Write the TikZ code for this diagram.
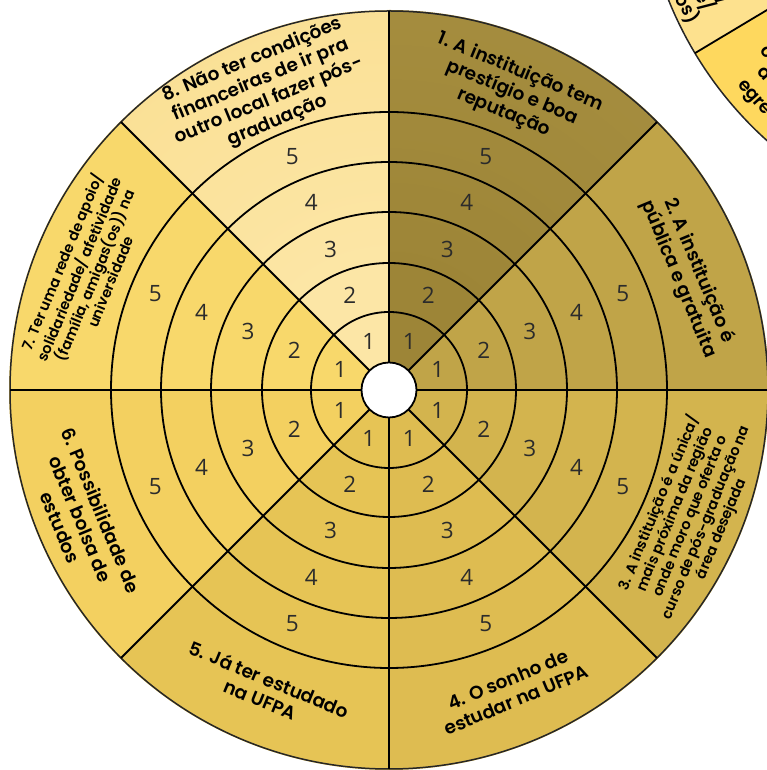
\documentclass[tikz,border=0pt]{standalone}
\usepackage{fontspec}
\IfFontExistsTF{Poppins SemiBold}{\setmainfont{Poppins}[BoldFont={Poppins SemiBold}]}{\setmainfont{Poppins}}
\newfontfamily\numfont{Open Sans}
\definecolor{sA}{HTML}{A68E3E}
\definecolor{sAin}{HTML}{9D8537}
\definecolor{sAout}{HTML}{AC9445}
\definecolor{sB}{HTML}{C0A448}
\definecolor{sC}{HTML}{D3B44E}
\definecolor{sD}{HTML}{DEBC51}
\definecolor{sE}{HTML}{E6C455}
\definecolor{sF}{HTML}{F3D060}
\definecolor{sG}{HTML}{F8D86B}
\definecolor{sH}{HTML}{F9DC8A}
\definecolor{sHin}{HTML}{FCE6A6}
\definecolor{owlight}{HTML}{FDE18E}
\definecolor{owyellow}{HTML}{FED85E}
\definecolor{numgray}{HTML}{2B2B2B}
\pgfdeclareradialshading{shadeH}{\pgfpoint{0bp}{0bp}}{color(0bp)=(sHin); color(8bp)=(sHin); color(38bp)=(sH); color(50bp)=(sH)}
\pgfdeclareradialshading{shadeA}{\pgfpoint{0bp}{0bp}}{color(0bp)=(sAin); color(8bp)=(sAin); color(42bp)=(sAout); color(50bp)=(sAout)}
\begin{document}
\begin{tikzpicture}[x=1pt,y=1pt,
  lbl/.style={font=\bfseries\fontsize{18.5}{22}\selectfont, align=center, text=black, inner sep=0pt},
  lblsm/.style={font=\bfseries\fontsize{14.5}{16.8}\selectfont, align=center, text=black, inner sep=0pt},
  olbl/.style={font=\bfseries\fontsize{18}{21}\selectfont, text=black, inner sep=0pt},
  num/.style={font=\numfont\fontsize{22.5}{22.5}\selectfont, text=numgray, inner sep=0pt},
  ring/.style={draw=black, line width=1.8pt},
  rim/.style={draw=black!85, line width=1.5pt}]
\useasboundingbox (0,0) rectangle (767,770);
\clip (0,0) rectangle (767,770);
% ---- partial second wheel (top right) ----
\begin{scope}[shift={(1021,912)}]
  \coordinate (oc) at (0,0);
  \fill[owlight] (oc) -- (160:380) arc[start angle=160,end angle=210.9,radius=380] -- cycle;
  \fill[owyellow] (oc) -- (210.9:380) arc[start angle=210.9,end angle=270,radius=380] -- cycle;
  \draw[rim] (160:380) arc[start angle=160,end angle=270,radius=380];
  \coordinate (orim) at (210.9:380);
  \draw[ring] (oc) -- (orim);
\end{scope}
\node[olbl, rotate=-62, anchor=base east] (o1) at (722,764) {o/};
\node[olbl, rotate=-62, anchor=base east] (o2) at (704,757) {e/};
\node[olbl, rotate=-62, anchor=base east] (o3) at (689,745) {s(os)};
\node[olbl, rotate=-48, anchor=base west] (o4) at (759,719) {c};
\node[olbl, rotate=-48, anchor=base west] (o5) at (756,698) {d};
\node[olbl, rotate=-48, anchor=base west] (o6) at (737,685) {egre};
% ---- main wheel ----
\begin{scope}[shift={(389,380)}]
  \coordinate (c) at (0,0);
  \fill[sB] (c) -- (0:380) arc[start angle=0,end angle=45,radius=380] -- cycle;
  \fill[sC] (c) -- (-45:380) arc[start angle=-45,end angle=0,radius=380] -- cycle;
  \fill[sD] (c) -- (-90:380) arc[start angle=-90,end angle=-45,radius=380] -- cycle;
  \fill[sE] (c) -- (-135:380) arc[start angle=-135,end angle=-90,radius=380] -- cycle;
  \fill[sF] (c) -- (180:380) arc[start angle=180,end angle=225,radius=380] -- cycle;
  \fill[sG] (c) -- (135:380) arc[start angle=135,end angle=180,radius=380] -- cycle;
  \begin{scope}
    \clip (c) -- (90:381) arc[start angle=90,end angle=135,radius=381] -- cycle;
    \shade[shading=shadeH] (c) circle (380);
  \end{scope}
  \begin{scope}
    \clip (c) -- (45:381) arc[start angle=45,end angle=90,radius=381] -- cycle;
    \shade[shading=shadeA] (c) circle (380);
  \end{scope}
  \fill[white] (c) circle (27.5);
  \foreach \r in {78,127,178,228,278} \draw[ring] (c) circle (\r);
  \draw[rim] (c) circle (379);
  \foreach \a in {0,45,...,315} \draw[ring] (\a:27.5) -- (\a:379);
  \draw[ring] (c) circle (27.5);
  % ring numbers
  \foreach \a [count=\i] in {22.5,67.5,112.5,157.5,202.5,247.5,292.5,337.5}
    \foreach \r/\n in {52.75/1,102.5/2,152.5/3,203/4,253/5}
      \node[num] (n\i-\n) at (\a:\r) {\n};
  % sector labels
  \node[lbl, rotate=-22.5] (t1) at (67.5:322) {1. A instituição tem\\prestígio e boa\\reputação};
  \node[lbl, rotate=-67.5] (t2) at (21:321) {2. A instituição é\\pública e gratuita};
  \node[lblsm, rotate=67.5] (t3) at (-22.7:326) {3. A instituição é a única/\\mais próxima da região\\onde moro que oferta o\\curso de pós-graduação na\\área desejada};
  \node[lbl, rotate=22.5] (t4) at (-67.7:324) {4. O sonho de\\estudar na UFPA};
  \node[lbl, rotate=-22.5] (t5) at (247.5:324) {5. Já ter estudado\\na UFPA};
  \node[lbl, rotate=-67.5] (t6) at (202.7:334) {6. Possibilidade de\\obter bolsa de\\estudos};
  \node[lblsm, rotate=67.5] (t7) at (158.7:326) {7. Ter uma rede de apoio/\\solidariedade/ afetividade\\(família, amigas(os)) na\\universidade};
  \node[lbl, rotate=22.5] (t8) at (112.5:324) {8. Não ter condições\\financeiras de ir pra\\outro local fazer pós-\\graduação};
\end{scope}
\end{tikzpicture}
\end{document}
